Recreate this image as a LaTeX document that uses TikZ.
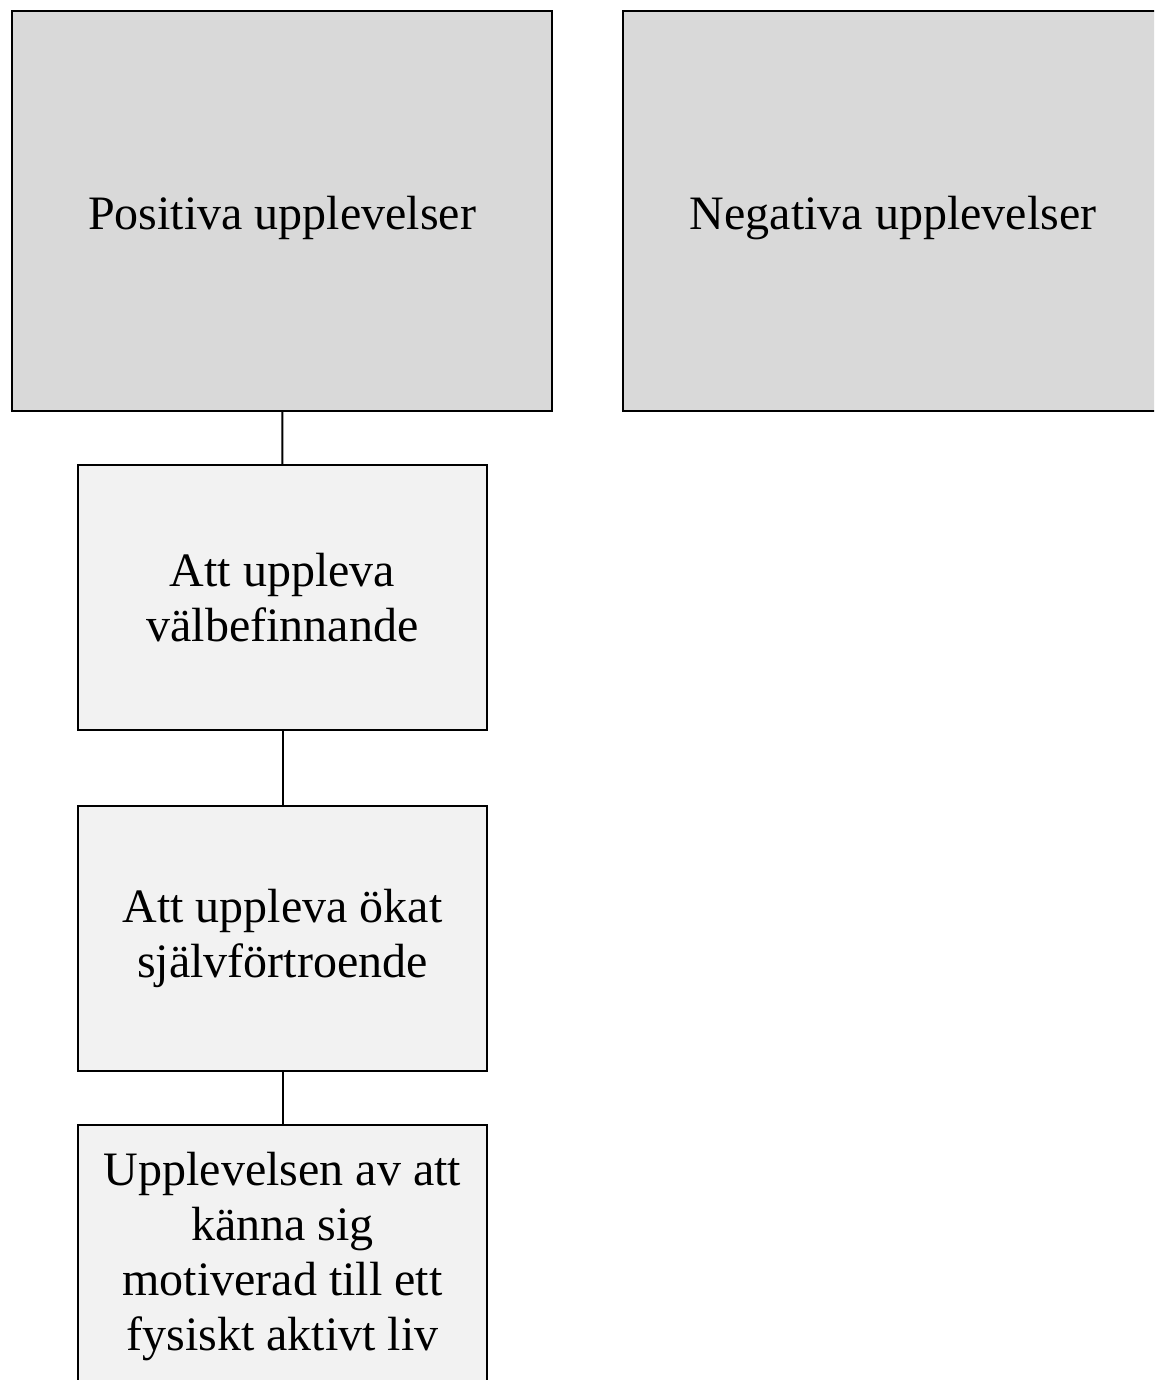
\documentclass[tikz,border=0pt]{standalone}
\usepackage{fontspec}
\setmainfont{Liberation Serif}
\usepackage{tikz}
\usetikzlibrary{positioning}
\definecolor{darkfill}{HTML}{D9D9D9}
\definecolor{lightfill}{HTML}{F2F2F2}
\tikzstyle{topbox} = [rectangle, minimum width=540pt, minimum height=400pt, text centered, text height=48pt, text depth=11pt, draw=black, line width=2pt, fill=darkfill, font=\fontsize{48}{55}\selectfont]
\tikzstyle{subbox} = [rectangle, minimum width=409pt, minimum height=265pt, align=center, draw=black, line width=2pt, fill=lightfill, font=\fontsize{48}{55}\selectfont]
\tikzstyle{link} = [line width=2pt]

\begin{document}
\begin{tikzpicture}[x=1pt, y=-1pt]
	\useasboundingbox (0,0) rectangle (1154,1380);
	\clip (0,0) rectangle (1154,1380);
	\node(positive) [topbox] at (282,211) {Positiva upplevelser};
	\node(negative) [topbox] at (893,211) {Negativa upplevelser};
	\node(wellbeing) [subbox] at (282.5,597.5) {Att uppleva\\välbefinnande};
	\node(confidence) [subbox] at (282.5,938) {Att uppleva ökat\\självförtroende};
	\node(motivated) [subbox] at (282.5,1257) {Upplevelsen av att\\känna sig\\motiverad till ett\\fysiskt aktivt liv};
	
	\draw[link] (positive) -- (wellbeing);
	\draw[link] (wellbeing) -- (confidence);
	\draw[link] (confidence) -- (motivated);
\end{tikzpicture}
\end{document}
